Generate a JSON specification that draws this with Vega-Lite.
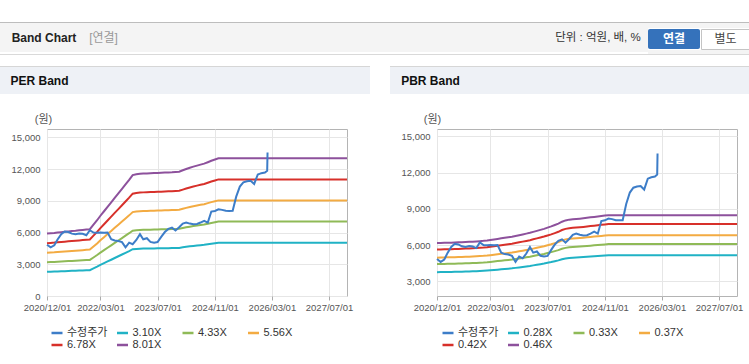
{
"$schema": "https://vega.github.io/schema/vega-lite/v6.json",
"padding": {"top": 22, "left": 0, "right": 0, "bottom": 0},
"background": "#ffffff",
"spacing": 0,
"datasets": {
"price": [
{"d":"2020-12-01","v":4850},{"d":"2021-01-01","v":4600},{"d":"2021-02-01","v":4800},{"d":"2021-03-01","v":5350},{"d":"2021-04-01","v":5850},{"d":"2021-05-01","v":6100},{"d":"2021-06-01","v":6050},{"d":"2021-07-01","v":5900},{"d":"2021-08-01","v":5850},{"d":"2021-09-01","v":5920},{"d":"2021-10-01","v":5880},{"d":"2021-11-01","v":5750},{"d":"2021-12-01","v":6220},
{"d":"2022-01-01","v":6000},{"d":"2022-02-01","v":5980},{"d":"2022-03-01","v":6010},{"d":"2022-04-01","v":5990},{"d":"2022-05-01","v":6000},{"d":"2022-06-01","v":5370},{"d":"2022-07-01","v":5250},{"d":"2022-08-01","v":5210},{"d":"2022-09-01","v":5100},{"d":"2022-10-01","v":4600},{"d":"2022-11-01","v":5050},{"d":"2022-12-01","v":4900},
{"d":"2023-01-01","v":5300},{"d":"2023-02-01","v":5845},{"d":"2023-03-01","v":5370},{"d":"2023-04-01","v":5465},{"d":"2023-05-01","v":5115},{"d":"2023-06-01","v":5050},{"d":"2023-07-01","v":5100},{"d":"2023-08-01","v":5600},{"d":"2023-09-01","v":6050},{"d":"2023-10-01","v":6350},{"d":"2023-11-01","v":6470},{"d":"2023-12-01","v":6200},
{"d":"2024-01-01","v":6500},{"d":"2024-02-01","v":6850},{"d":"2024-03-01","v":6950},{"d":"2024-04-01","v":6850},{"d":"2024-05-01","v":6790},{"d":"2024-06-01","v":6820},{"d":"2024-07-01","v":6950},{"d":"2024-08-01","v":7105},{"d":"2024-09-01","v":6945},{"d":"2024-10-01","v":7990},{"d":"2024-11-01","v":8050},{"d":"2024-12-01","v":8200},
{"d":"2025-01-01","v":8150},{"d":"2025-02-01","v":8060},{"d":"2025-03-01","v":8050},{"d":"2025-04-01","v":8060},{"d":"2025-05-01","v":9400},{"d":"2025-06-01","v":10350},{"d":"2025-07-01","v":10750},{"d":"2025-08-01","v":10850},{"d":"2025-09-01","v":10895},{"d":"2025-10-01","v":10600},{"d":"2025-11-01","v":11500},{"d":"2025-12-01","v":11620},
{"d":"2026-01-01","v":11680},{"d":"2026-01-20","v":11840},{"d":"2026-01-23","v":13580}
],
"per": [
{"d":"2020-12-01","k1":2285,"k2":3191,"k3":4098,"k4":4997,"k5":5903},
{"d":"2021-01-01","k1":2297,"k2":3209,"k3":4120,"k4":5024,"k5":5935},
{"d":"2021-02-01","k1":2310,"k2":3226,"k3":4142,"k4":5051,"k5":5967},
{"d":"2021-03-01","k1":2325,"k2":3248,"k3":4170,"k4":5085,"k5":6008},
{"d":"2021-04-01","k1":2337,"k2":3265,"k3":4192,"k4":5112,"k5":6040},
{"d":"2021-05-01","k1":2350,"k2":3282,"k3":4214,"k4":5139,"k5":6072},
{"d":"2021-06-01","k1":2365,"k2":3304,"k3":4242,"k4":5173,"k5":6112},
{"d":"2021-07-01","k1":2378,"k2":3321,"k3":4265,"k4":5200,"k5":6144},
{"d":"2021-08-01","k1":2390,"k2":3338,"k3":4287,"k4":5227,"k5":6176},
{"d":"2021-09-01","k1":2406,"k2":3360,"k3":4315,"k4":5261,"k5":6216},
{"d":"2021-10-01","k1":2418,"k2":3377,"k3":4337,"k4":5288,"k5":6248},
{"d":"2021-11-01","k1":2434,"k2":3399,"k3":4365,"k4":5322,"k5":6288},
{"d":"2021-12-01","k1":2446,"k2":3416,"k3":4387,"k4":5349,"k5":6320},
{"d":"2022-01-01","k1":2610,"k2":3646,"k3":4682,"k4":5709,"k5":6744},
{"d":"2022-02-01","k1":2775,"k2":3875,"k3":4976,"k4":6068,"k5":7169},
{"d":"2022-03-01","k1":2939,"k2":4105,"k3":5271,"k4":6427,"k5":7593},
{"d":"2022-04-01","k1":3103,"k2":4334,"k3":5566,"k4":6787,"k5":8018},
{"d":"2022-05-01","k1":3267,"k2":4564,"k3":5860,"k4":7146,"k5":8443},
{"d":"2022-06-01","k1":3432,"k2":4793,"k3":6155,"k4":7505,"k5":8867},
{"d":"2022-07-01","k1":3596,"k2":5023,"k3":6450,"k4":7865,"k5":9292},
{"d":"2022-08-01","k1":3760,"k2":5252,"k3":6744,"k4":8224,"k5":9716},
{"d":"2022-09-01","k1":3925,"k2":5482,"k3":7039,"k4":8583,"k5":10141},
{"d":"2022-10-01","k1":4089,"k2":5711,"k3":7334,"k4":8943,"k5":10565},
{"d":"2022-11-01","k1":4253,"k2":5941,"k3":7628,"k4":9302,"k5":10990},
{"d":"2022-12-01","k1":4427,"k2":6183,"k3":7940,"k4":9682,"k5":11438},
{"d":"2023-01-01","k1":4458,"k2":6227,"k3":7995,"k4":9750,"k5":11518},
{"d":"2023-02-01","k1":4476,"k2":6253,"k3":8029,"k4":9790,"k5":11566},
{"d":"2023-03-01","k1":4483,"k2":6261,"k3":8040,"k4":9804,"k5":11582},
{"d":"2023-04-01","k1":4489,"k2":6270,"k3":8051,"k4":9817,"k5":11598},
{"d":"2023-05-01","k1":4495,"k2":6279,"k3":8062,"k4":9831,"k5":11615},
{"d":"2023-06-01","k1":4501,"k2":6287,"k3":8073,"k4":9845,"k5":11631},
{"d":"2023-07-01","k1":4507,"k2":6296,"k3":8084,"k4":9858,"k5":11647},
{"d":"2023-08-01","k1":4514,"k2":6304,"k3":8095,"k4":9872,"k5":11663},
{"d":"2023-09-01","k1":4520,"k2":6313,"k3":8106,"k4":9885,"k5":11679},
{"d":"2023-10-01","k1":4526,"k2":6322,"k3":8118,"k4":9899,"k5":11695},
{"d":"2023-11-01","k1":4532,"k2":6330,"k3":8129,"k4":9912,"k5":11711},
{"d":"2023-12-01","k1":4542,"k2":6343,"k3":8145,"k4":9933,"k5":11735},
{"d":"2024-01-01","k1":4551,"k2":6356,"k3":8162,"k4":9953,"k5":11759},
{"d":"2024-02-01","k1":4604,"k2":6430,"k3":8257,"k4":10068,"k5":11895},
{"d":"2024-03-01","k1":4650,"k2":6495,"k3":8340,"k4":10170,"k5":12015},
{"d":"2024-04-01","k1":4697,"k2":6560,"k3":8423,"k4":10272,"k5":12135},
{"d":"2024-05-01","k1":4737,"k2":6616,"k3":8496,"k4":10360,"k5":12239},
{"d":"2024-06-01","k1":4774,"k2":6668,"k3":8562,"k4":10441,"k5":12335},
{"d":"2024-07-01","k1":4811,"k2":6720,"k3":8629,"k4":10523,"k5":12432},
{"d":"2024-08-01","k1":4845,"k2":6768,"k3":8690,"k4":10597,"k5":12520},
{"d":"2024-09-01","k1":4898,"k2":6841,"k3":8785,"k4":10712,"k5":12656},
{"d":"2024-10-01","k1":4951,"k2":6915,"k3":8879,"k4":10828,"k5":12792},
{"d":"2024-11-01","k1":4997,"k2":6980,"k3":8963,"k4":10929,"k5":12912},
{"d":"2024-12-01","k1":5044,"k2":7045,"k3":9046,"k4":11031,"k5":13032},
{"d":"2025-06-01","k1":5044,"k2":7045,"k3":9046,"k4":11031,"k5":13032},
{"d":"2026-01-01","k1":5044,"k2":7045,"k3":9046,"k4":11031,"k5":13032},
{"d":"2027-01-01","k1":5044,"k2":7045,"k3":9046,"k4":11031,"k5":13032},
{"d":"2027-12-01","k1":5044,"k2":7045,"k3":9046,"k4":11031,"k5":13032}
],
"pbr": [
{"d":"2020-12-01","k1":3752,"k2":4422,"k3":4958,"k4":5628,"k5":6164},
{"d":"2021-01-01","k1":3758,"k2":4429,"k3":4965,"k4":5636,"k5":6173},
{"d":"2021-02-01","k1":3763,"k2":4435,"k3":4973,"k4":5645,"k5":6182},
{"d":"2021-03-01","k1":3769,"k2":4442,"k3":4980,"k4":5653,"k5":6192},
{"d":"2021-04-01","k1":3774,"k2":4448,"k3":4988,"k4":5662,"k5":6201},
{"d":"2021-05-01","k1":3780,"k2":4455,"k3":4995,"k4":5670,"k5":6210},
{"d":"2021-06-01","k1":3788,"k2":4465,"k3":5006,"k4":5683,"k5":6224},
{"d":"2021-07-01","k1":3797,"k2":4475,"k3":5017,"k4":5695,"k5":6238},
{"d":"2021-08-01","k1":3805,"k2":4485,"k3":5028,"k4":5708,"k5":6251},
{"d":"2021-09-01","k1":3814,"k2":4495,"k3":5039,"k4":5720,"k5":6265},
{"d":"2021-10-01","k1":3825,"k2":4508,"k3":5054,"k4":5737,"k5":6284},
{"d":"2021-11-01","k1":3836,"k2":4521,"k3":5069,"k4":5754,"k5":6302},
{"d":"2021-12-01","k1":3850,"k2":4538,"k3":5088,"k4":5775,"k5":6325},
{"d":"2022-01-01","k1":3864,"k2":4554,"k3":5106,"k4":5796,"k5":6348},
{"d":"2022-02-01","k1":3884,"k2":4577,"k3":5132,"k4":5825,"k5":6380},
{"d":"2022-03-01","k1":3906,"k2":4604,"k3":5162,"k4":5859,"k5":6417},
{"d":"2022-04-01","k1":3934,"k2":4637,"k3":5199,"k4":5901,"k5":6463},
{"d":"2022-05-01","k1":3962,"k2":4670,"k3":5236,"k4":5943,"k5":6509},
{"d":"2022-06-01","k1":3990,"k2":4703,"k3":5273,"k4":5985,"k5":6555},
{"d":"2022-07-01","k1":4018,"k2":4736,"k3":5310,"k4":6027,"k5":6601},
{"d":"2022-08-01","k1":4046,"k2":4769,"k3":5347,"k4":6069,"k5":6647},
{"d":"2022-09-01","k1":4074,"k2":4802,"k3":5384,"k4":6111,"k5":6693},
{"d":"2022-10-01","k1":4110,"k2":4844,"k3":5432,"k4":6166,"k5":6753},
{"d":"2022-11-01","k1":4150,"k2":4891,"k3":5483,"k4":6224,"k5":6817},
{"d":"2022-12-01","k1":4189,"k2":4937,"k3":5535,"k4":6283,"k5":6882},
{"d":"2023-01-01","k1":4228,"k2":4983,"k3":5587,"k4":6342,"k5":6946},
{"d":"2023-02-01","k1":4270,"k2":5033,"k3":5643,"k4":6405,"k5":7015},
{"d":"2023-03-01","k1":4318,"k2":5089,"k3":5705,"k4":6476,"k5":7093},
{"d":"2023-04-01","k1":4368,"k2":5148,"k3":5772,"k4":6552,"k5":7176},
{"d":"2023-05-01","k1":4418,"k2":5207,"k3":5839,"k4":6628,"k5":7259},
{"d":"2023-06-01","k1":4469,"k2":5267,"k3":5905,"k4":6703,"k5":7342},
{"d":"2023-07-01","k1":4530,"k2":5339,"k3":5987,"k4":6796,"k5":7443},
{"d":"2023-08-01","k1":4592,"k2":5412,"k3":6068,"k4":6888,"k5":7544},
{"d":"2023-09-01","k1":4662,"k2":5495,"k3":6161,"k4":6993,"k5":7659},
{"d":"2023-10-01","k1":4732,"k2":5577,"k3":6253,"k4":7098,"k5":7774},
{"d":"2023-11-01","k1":4830,"k2":5693,"k3":6383,"k4":7245,"k5":7935},
{"d":"2023-12-01","k1":4894,"k2":5768,"k3":6468,"k4":7342,"k5":8041},
{"d":"2024-01-01","k1":4934,"k2":5815,"k3":6519,"k4":7400,"k5":8105},
{"d":"2024-02-01","k1":4953,"k2":5838,"k3":6545,"k4":7430,"k5":8137},
{"d":"2024-03-01","k1":4967,"k2":5854,"k3":6564,"k4":7451,"k5":8160},
{"d":"2024-04-01","k1":4984,"k2":5874,"k3":6586,"k4":7476,"k5":8188},
{"d":"2024-05-01","k1":5004,"k2":5897,"k3":6612,"k4":7505,"k5":8220},
{"d":"2024-06-01","k1":5026,"k2":5924,"k3":6642,"k4":7539,"k5":8257},
{"d":"2024-07-01","k1":5048,"k2":5950,"k3":6671,"k4":7573,"k5":8294},
{"d":"2024-08-01","k1":5071,"k2":5976,"k3":6701,"k4":7606,"k5":8331},
{"d":"2024-09-01","k1":5093,"k2":6003,"k3":6730,"k4":7640,"k5":8367},
{"d":"2024-10-01","k1":5116,"k2":6029,"k3":6760,"k4":7673,"k5":8404},
{"d":"2024-11-01","k1":5138,"k2":6056,"k3":6790,"k4":7707,"k5":8441},
{"d":"2024-12-01","k1":5158,"k2":6079,"k3":6815,"k4":7736,"k5":8473},
{"d":"2025-06-01","k1":5158,"k2":6079,"k3":6815,"k4":7736,"k5":8473},
{"d":"2026-01-01","k1":5158,"k2":6079,"k3":6815,"k4":7736,"k5":8473},
{"d":"2027-01-01","k1":5158,"k2":6079,"k3":6815,"k4":7736,"k5":8473},
{"d":"2027-12-01","k1":5158,"k2":6079,"k3":6815,"k4":7736,"k5":8473}
]
},
"vconcat": [
{"width": 749, "height": 1, "view": {"fill": "#bdbdbd"}, "data": {"values": []}, "mark": "point"},
{"hconcat": [
  {"width": 88, "height": 29, "view": {"fill": "#f4f4f4"}, "data": {"values": [{"t": "Band Chart"}]}, "mark": {"type": "text", "fontSize": 12, "fontWeight": "bold", "color": "#222222"}, "encoding": {"text": {"field": "t"}}},
  {"width": 31, "height": 29, "view": {"fill": "#f4f4f4"}, "data": {"values": [{"t": "[연결]"}]}, "mark": {"type": "text", "fontSize": 12, "color": "#999999"}, "encoding": {"text": {"field": "t"}}},
  {"width": 429, "height": 29, "view": {"fill": "#f4f4f4"}, "data": {"values": []}, "mark": "point"},
  {"width": 100, "height": 29, "view": {"fill": "#f4f4f4"}, "data": {"values": [{"t": "단위 : 억원, 배, %"}]}, "mark": {"type": "text", "fontSize": 11.5, "color": "#333333"}, "encoding": {"text": {"field": "t"}}},
  {"vconcat": [
    {"width": 101, "height": 5, "view": {"fill": "#f4f4f4"}, "data": {"values": []}, "mark": "point"},
    {"hconcat": [
      {"width": 52, "height": 20, "view": {"fill": "#3572bb", "cornerRadius": 2}, "data": {"values": [{"t": "연결"}]}, "mark": {"type": "text", "fontSize": 12, "fontWeight": "bold", "color": "#ffffff"}, "encoding": {"text": {"field": "t"}}},
      {"width": 49, "height": 20, "view": {"fill": "#ffffff", "stroke": "#c4c4c4"}, "data": {"values": [{"t": "별도"}]}, "mark": {"type": "text", "fontSize": 12, "color": "#444444"}, "encoding": {"text": {"field": "t"}}}
    ], "spacing": 0},
    {"width": 101, "height": 4, "view": {"fill": "#f4f4f4"}, "data": {"values": []}, "mark": "point"}
  ], "spacing": 0}
], "spacing": 0},
{"width": 749, "height": 1, "view": {"fill": "#d9d9d9"}, "data": {"values": []}, "mark": "point"},
{"width": 749, "height": 11, "data": {"values": []}, "mark": "point"},
{"hconcat": [
  {"width": 370, "height": 1, "view": {"fill": "#d6d6d6"}, "data": {"values": []}, "mark": "point"},
  {"width": 20, "height": 1, "data": {"values": []}, "mark": "point"},
  {"width": 359, "height": 1, "view": {"fill": "#d6d6d6"}, "data": {"values": []}, "mark": "point"}
], "spacing": 0},
{"hconcat": [
  {"width": 79, "height": 27, "view": {"fill": "#eef1f6"}, "data": {"values": [{"t": "PER Band"}]}, "mark": {"type": "text", "fontSize": 12, "fontWeight": "bold", "color": "#111111"}, "encoding": {"text": {"field": "t"}}},
  {"width": 291, "height": 27, "view": {"fill": "#eef1f6"}, "data": {"values": []}, "mark": "point"},
  {"width": 20, "height": 27, "data": {"values": []}, "mark": "point"},
  {"width": 81, "height": 27, "view": {"fill": "#eef1f6"}, "data": {"values": [{"t": "PBR Band"}]}, "mark": {"type": "text", "fontSize": 12, "fontWeight": "bold", "color": "#111111"}, "encoding": {"text": {"field": "t"}}},
  {"width": 278, "height": 27, "view": {"fill": "#eef1f6"}, "data": {"values": []}, "mark": "point"}
], "spacing": 0},
{"width": 749, "height": 18, "data": {"values": []}, "mark": "point"},
{"hconcat": [
  {"width": 47, "height": 167, "data": {"values": []}, "mark": "point"},
  {"width": 300, "height": 167, "view": {"stroke": "#b4b4b4"},
   "encoding": {
     "x": {"field": "d", "type": "temporal",
       "scale": {"type": "utc", "domain": [{"year": 2020, "month": 12, "date": 1, "utc": true}, {"year": 2027, "month": 12, "date": 1, "utc": true}]},
       "axis": {"values": [{"year": 2020, "month": 12, "date": 1, "utc": true}, {"year": 2022, "month": 3, "date": 1, "utc": true}, {"year": 2023, "month": 7, "date": 1, "utc": true}, {"year": 2024, "month": 11, "date": 1, "utc": true}, {"year": 2026, "month": 3, "date": 1, "utc": true}, {"year": 2027, "month": 7, "date": 1, "utc": true}],
         "format": "%Y/%m/%d", "title": null, "grid": true, "ticks": true, "tickSize": 4, "labelPadding": 2, "labelFlush": false, "labelOverlap": false}},
     "y": {"field": "v", "type": "quantitative",
       "scale": {"domain": [0, 15800], "nice": false, "zero": false},
       "axis": {"values": [0, 3000, 6000, 9000, 12000, 15000], "format": ",.0f", "title": "(원)", "titleAngle": 0, "titleX": -4, "titleY": -10, "titleAlign": "center", "titleBaseline": "middle", "titleFontWeight": "normal", "titleFontSize": 11, "titleColor": "#555555", "grid": true, "ticks": false, "labelPadding": 7}}
   },
   "layer": [
     {"data": {"name": "per"}, "transform": [{"fold": ["k1", "k2", "k3", "k4", "k5"], "as": ["s", "v"]}],
      "mark": {"type": "line", "strokeWidth": 2},
      "encoding": {"color": {"field": "s", "type": "nominal",
        "scale": {"domain": ["수정주가", "k1", "k2", "k3", "k4", "k5"], "range": ["#3d7dc8", "#20b2c5", "#8fba57", "#f3ab42", "#d7302a", "#8d519c"]},
        "legend": {"orient": "none", "legendX": 3, "legendY": 197, "direction": "horizontal", "columns": 4, "title": null, "symbolType": "stroke", "symbolSize": 121, "symbolStrokeWidth": 2.5, "labelFontSize": 11, "labelColor": "#333333", "labelOffset": 3, "columnPadding": 3.5, "rowPadding": -1, "gridAlign": "all",
          "labelExpr": "datum.label == 'k1' ? '3.10X' : datum.label == 'k2' ? '4.33X' : datum.label == 'k3' ? '5.56X' : datum.label == 'k4' ? '6.78X' : datum.label == 'k5' ? '8.01X' : datum.label"}}}},
     {"data": {"name": "price"}, "mark": {"type": "line", "strokeWidth": 2}, "encoding": {"color": {"datum": "수정주가"}}}
   ]},
  {"width": 90, "height": 167, "data": {"values": []}, "mark": "point"},
  {"width": 300, "height": 167, "view": {"stroke": "#b4b4b4"},
   "encoding": {
     "x": {"field": "d", "type": "temporal",
       "scale": {"type": "utc", "domain": [{"year": 2020, "month": 12, "date": 1, "utc": true}, {"year": 2027, "month": 12, "date": 1, "utc": true}]},
       "axis": {"values": [{"year": 2020, "month": 12, "date": 1, "utc": true}, {"year": 2022, "month": 3, "date": 1, "utc": true}, {"year": 2023, "month": 7, "date": 1, "utc": true}, {"year": 2024, "month": 11, "date": 1, "utc": true}, {"year": 2026, "month": 3, "date": 1, "utc": true}, {"year": 2027, "month": 7, "date": 1, "utc": true}],
         "format": "%Y/%m/%d", "title": null, "grid": true, "ticks": true, "tickSize": 4, "labelPadding": 2, "labelFlush": false, "labelOverlap": false}},
     "y": {"field": "v", "type": "quantitative",
       "scale": {"domain": [1780, 15614], "nice": false, "zero": false},
       "axis": {"values": [3000, 6000, 9000, 12000, 15000], "format": ",.0f", "title": "(원)", "titleAngle": 0, "titleX": -5, "titleY": -10, "titleAlign": "center", "titleBaseline": "middle", "titleFontWeight": "normal", "titleFontSize": 11, "titleColor": "#555555", "grid": true, "ticks": false, "labelPadding": 7}}
   },
   "layer": [
     {"data": {"name": "pbr"}, "transform": [{"fold": ["k1", "k2", "k3", "k4", "k5"], "as": ["s", "v"]}],
      "mark": {"type": "line", "strokeWidth": 2},
      "encoding": {"color": {"field": "s", "type": "nominal",
        "scale": {"domain": ["수정주가", "k1", "k2", "k3", "k4", "k5"], "range": ["#3d7dc8", "#20b2c5", "#8fba57", "#f3ab42", "#d7302a", "#8d519c"]},
        "legend": {"orient": "none", "legendX": 4, "legendY": 197, "direction": "horizontal", "columns": 4, "title": null, "symbolType": "stroke", "symbolSize": 121, "symbolStrokeWidth": 2.5, "labelFontSize": 11, "labelColor": "#333333", "labelOffset": 3, "columnPadding": 3.5, "rowPadding": -1, "gridAlign": "all",
          "labelExpr": "datum.label == 'k1' ? '0.28X' : datum.label == 'k2' ? '0.33X' : datum.label == 'k3' ? '0.37X' : datum.label == 'k4' ? '0.42X' : datum.label == 'k5' ? '0.46X' : datum.label"}}}},
     {"data": {"name": "price"}, "mark": {"type": "line", "strokeWidth": 2}, "encoding": {"color": {"datum": "수정주가"}}}
   ]}
], "spacing": 0, "bounds": "flush", "resolve": {"scale": {"color": "independent", "x": "independent", "y": "independent"}, "legend": {"color": "independent"}}},
{"width": 749, "height": 22, "data": {"values": []}, "mark": "point"},
{"hconcat": [
  {"width": 370, "height": 1, "view": {"fill": "#cfcfcf"}, "data": {"values": []}, "mark": "point"},
  {"width": 20, "height": 1, "data": {"values": []}, "mark": "point"},
  {"width": 359, "height": 1, "view": {"fill": "#cfcfcf"}, "data": {"values": []}, "mark": "point"}
], "spacing": 0}
],
"config": {
  "view": {"stroke": null},
  "font": "Liberation Sans, Noto Sans CJK KR",
  "text": {"font": "Liberation Sans, Noto Sans CJK KR"},
  "axis": {"labelFont": "Liberation Sans, Noto Sans CJK KR", "titleFont": "Liberation Sans, Noto Sans CJK KR", "labelFontSize": 9.5, "labelColor": "#555555", "gridColor": "#e6e6e6", "domain": false, "tickColor": "#aaaaaa"},
  "legend": {"labelFont": "Liberation Sans, Noto Sans CJK KR"}
}
}
